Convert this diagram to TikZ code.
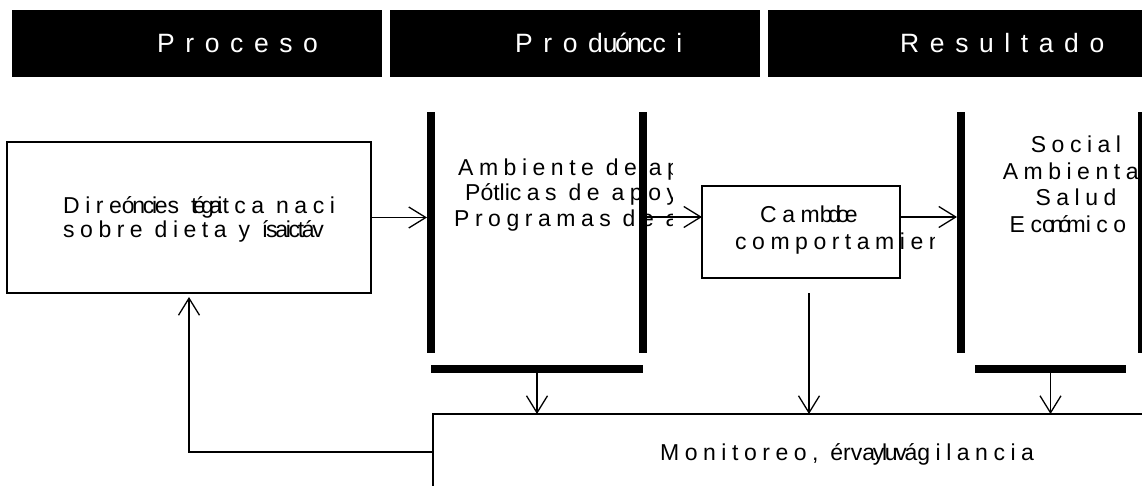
\documentclass[tikz,border=0pt]{standalone}
\usepackage{fontspec}
\setmainfont{Liberation Sans}
\newfontfamily\headfont[LetterSpace=40]{Liberation Sans}
\newfontfamily\bodyfont[LetterSpace=24]{Liberation Sans}
\newfontfamily\unspacedfont{Liberation Sans}
\newfontfamily\tightfont[LetterSpace=-10]{Liberation Sans}
\newfontfamily\crushfont[LetterSpace=-20]{Liberation Sans}
\newcommand\unspaced[1]{{\unspacedfont #1}}
\newcommand\squash[1]{{\tightfont #1}}
\newcommand\crush[1]{{\crushfont #1}}
\usepackage{tikz}
\usetikzlibrary{arrows.meta,positioning}

\begin{document}
\begin{tikzpicture}[x=1pt, y=-1pt,
		head/.style={fill=black, minimum width=370pt, minimum height=67pt, inner sep=0pt, outer sep=0pt},
		headtxt/.style={text=white, font=\fontsize{26.5}{30}\headfont, inner sep=0pt, anchor=base west},
		bodytxt/.style={font=\fontsize{23}{26}\bodyfont, inner sep=0pt, anchor=base west},
		box/.style={draw, line width=1.2pt, inner sep=0pt, outer sep=0pt},
		bar/.style={fill=black, minimum width=8pt, minimum height=241pt, inner sep=0pt, outer sep=0pt},
		hbar/.style={fill=black, minimum height=8pt, inner sep=0pt, outer sep=0pt},
		arr/.style={-{Straight Barb[length=17pt,width=21pt]}, line width=1.3pt}]
		\useasboundingbox (0,0) rectangle (1142,486);
		\clip (0,0) rectangle (1142,486);
		% headers
		\node[head] (hdProceso) at (197,43.5) {};
		\node[head] (hdProduccion) at (575,43.5) {};
		\node[head, minimum width=382pt] (hdResultado) at (959,43.5) {};
		\node[headtxt] (tProceso) at (157,52.5) {Proceso};
		\node[headtxt] (tProduccion) at (515,52.5) {Prod\squash{uónc}ci};
		\node[headtxt] (tResultado) at (900,52.5) {Resultado};
		% texts
		\node[bodytxt] (strA) at (63,214) {Dire\squash{óncie}s \crush{tégai}tca naci};
		\node[bodytxt] (strB) at (63,238) {sobre dieta y \squash{ísaictáv}};
		\begin{scope}
			\clip (440,150) rectangle (672,235);
			\node[bodytxt] (prodA) at (458,176) {Ambiente de ap};
			\node[bodytxt] (prodB) at (465,201) {P\unspaced{ótli}cas de apoy};
			\node[bodytxt] (prodC) at (454,226) {Programas de a};
		\end{scope}
		\node[bodytxt] (camA) at (760,223) {Cam\crush{bdioe}};
		\begin{scope}
			\clip (720,230) rectangle (934,260);
			\node[bodytxt] (camB) at (735,250) {comportamien};
		\end{scope}
		\node[bodytxt, anchor=base] (resA) at (1076,153) {Social};
		\node[bodytxt, anchor=base] (resB) at (1076,180) {Ambiental};
		\node[bodytxt, anchor=base] (resC) at (1076,206) {Salud};
		\node[bodytxt, anchor=base] (resD) at (1068,233) {Ec\crush{onóm}ico};
		\begin{scope}
			\clip (640,430) rectangle (1037,470);
			\node[bodytxt] (monA) at (660,460) {Monitoreo, \unspaced{érv}\squash{ayluvá}gilancia};
		\end{scope}
		% boxes and bars
		\node[box, minimum width=364pt, minimum height=151pt] (strategy) at (189,217.5) {};
		\node[box, minimum width=198pt, minimum height=92pt] (cambio) at (801,232) {};
		\node[box, minimum width=727pt, minimum height=86pt] (monitor) at (796.5,457) {};
		\node[bar] (barA) at (431,232.5) {};
		\node[bar] (barB) at (643,232.5) {};
		\node[bar] (barC) at (961,232.5) {};
		\node[bar] (barD) at (1142,232.5) {};
		\node[hbar, minimum width=212pt] (hbarA) at (537,369) {};
		\node[hbar, minimum width=151pt] (hbarB) at (1050.5,369) {};
		% connectors
		\coordinate (lvl) at (0,217);
		\coordinate (drop) at (809,293);
		\coordinate (fb) at (0,452);
		\draw[arr] (strategy.east) -- (strategy.east -| barA.west);
		\draw[arr] (barB.east |- lvl) -- (cambio.west |- lvl);
		\draw[arr] (cambio.east |- lvl) -- (barC.west |- lvl);
		\draw[arr] (hbarA.south) -- (hbarA.south |- monitor.north);
		\draw[arr] (drop) -- (drop |- monitor.north);
		\draw[arr] (hbarB.south) -- (hbarB.south |- monitor.north);
		\draw[arr] (monitor.west |- fb) -| ([yshift=-4pt]strategy.south);
\end{tikzpicture}
\end{document}
